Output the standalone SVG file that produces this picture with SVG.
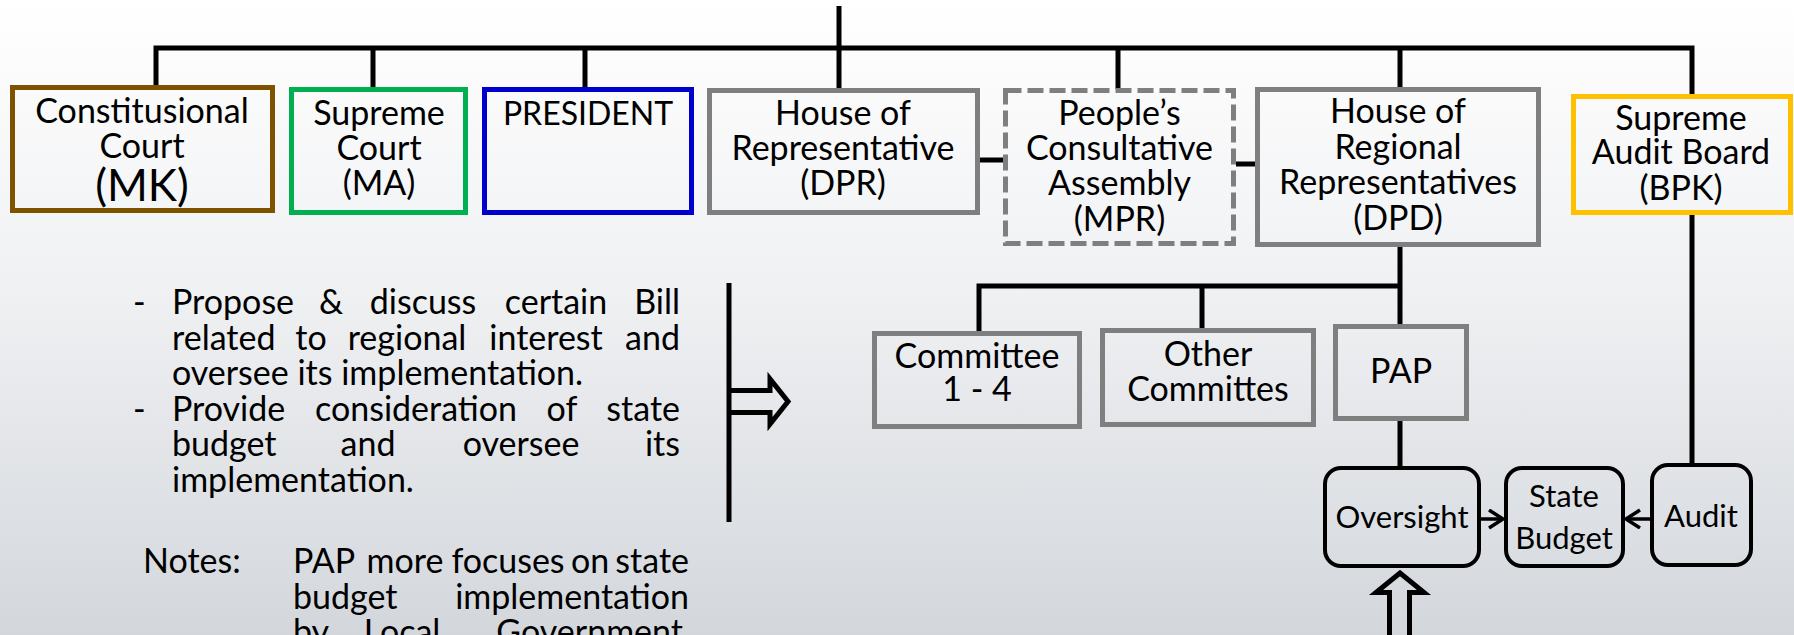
<svg xmlns="http://www.w3.org/2000/svg" width="1794" height="635" viewBox="0 0 1794 635">
<defs>
<linearGradient id="bg" x1="0" y1="0" x2="0" y2="1">
<stop offset="0" stop-color="#ffffff"/>
<stop offset="0.45" stop-color="#f0f1f3"/>
<stop offset="1" stop-color="#d3d7dc"/>
</linearGradient>
<marker id="open" markerUnits="userSpaceOnUse" markerWidth="20" markerHeight="24" refX="15" refY="10" orient="auto" viewBox="0 0 20 24">
<path d="M1,1 L15,10 L1,19" fill="none" stroke="#000" stroke-width="3.5"/>
</marker>
<style>
text{font-family:Lato,"Open Sans","Liberation Sans",sans-serif;fill:#000;}
.t{font-size:34px;text-anchor:middle;}
.s{font-size:31px;text-anchor:middle;}
.p{font-size:34px;}
.m{font-size:34px;text-anchor:middle;}
.e{font-size:34px;text-anchor:end;}
.box{fill:none;stroke-width:5;}
.gray{stroke:#7f7f7f;}
.rbox{fill:none;stroke:#000;stroke-width:4;}
.c{fill:none;stroke:#000;stroke-width:5;}
.a{fill:none;stroke:#000;stroke-width:3.5;marker-end:url(#open);}
.blk{fill:none;stroke:#000;stroke-width:5;stroke-linejoin:miter;}
</style>
</defs>
<rect width="1794" height="635" fill="url(#bg)"/>

<g id="connectors">
<path class="c" d="M156,86 V48 H1692 V95"/>
<path class="c" d="M839,6 V89"/>
<path class="c" d="M373,48 V88"/>
<path class="c" d="M585,48 V88"/>
<path class="c" d="M1118,48 V89"/>
<path class="c" d="M1400,48 V88"/>
<path class="c" d="M980,160 H1004"/>
<path class="c" d="M1236,164 H1256"/>
<path class="c" d="M1400,246 V325"/>
<path class="c" d="M979,332 V286 H1400"/>
<path class="c" d="M1202,286 V329"/>
<path class="c" d="M1400,420 V467"/>
<path class="c" d="M1692,214 V464"/>
<path class="a" d="M1481,519 H1503"/>
<path class="a" d="M1650,519 H1626"/>
<path class="c" d="M729,283 V522"/>
<path class="blk" d="M729,390.5 H770 V379 L788,401.5 L770,424 V412.5 H729"/>
<path class="blk" d="M1389.5,640 V592.5 H1376 L1400,573 L1424,592.5 H1409.5 V640"/>
</g>

<g id="mk">
<rect class="box" x="12.5" y="87.5" width="260" height="123" stroke="#7f5200"/>
<text class="t" x="142" y="123">Constitusional</text>
<text class="t" x="142" y="158">Court</text>
<text class="t" x="142" y="201" style="font-size:44px">(MK)</text>
</g>

<g id="ma">
<rect class="box" x="291.5" y="89.5" width="174" height="123" stroke="#00b050"/>
<text class="t" x="379" y="125">Supreme</text>
<text class="t" x="379" y="160">Court</text>
<text class="t" x="379" y="195">(MA)</text>
</g>

<g id="president">
<rect class="box" x="484.5" y="89.5" width="207" height="123" stroke="#0000cc"/>
<text class="t" x="588" y="125" style="font-size:32px">PRESIDENT</text>
</g>

<g id="dpr">
<rect class="box gray" x="709.5" y="90.5" width="268" height="122"/>
<text class="t" x="843" y="125">House of</text>
<text class="t" x="843" y="160">Representative</text>
<text class="t" x="843" y="195">(DPR)</text>
</g>

<g id="mpr">
<rect class="box gray" x="1005.5" y="90.5" width="228" height="153" stroke-dasharray="16 6"/>
<text class="t" x="1119.5" y="125">People’s</text>
<text class="t" x="1119.5" y="160">Consultative</text>
<text class="t" x="1119.5" y="195">Assembly</text>
<text class="t" x="1119.5" y="231">(MPR)</text>
</g>

<g id="dpd">
<rect class="box gray" x="1257.5" y="89.5" width="281" height="155"/>
<text class="t" x="1398" y="123">House of</text>
<text class="t" x="1398" y="159">Regional</text>
<text class="t" x="1398" y="194">Representatives</text>
<text class="t" x="1398" y="230">(DPD)</text>
</g>

<g id="bpk">
<rect class="box" x="1573.5" y="96.5" width="217" height="116" stroke="#ffc000"/>
<text class="t" x="1681" y="130">Supreme</text>
<text class="t" x="1681" y="164">Audit Board</text>
<text class="t" x="1681" y="200">(BPK)</text>
</g>

<g id="committee14">
<rect class="box gray" x="874.5" y="333.5" width="205" height="93"/>
<text class="t" x="977" y="368">Committee</text>
<text class="t" x="977" y="401">1 - 4</text>
</g>

<g id="othercommittes">
<rect class="box gray" x="1102.5" y="330.5" width="211" height="94"/>
<text class="t" x="1208" y="366">Other</text>
<text class="t" x="1208" y="401">Committes</text>
</g>

<g id="pap">
<rect class="box gray" x="1335.5" y="326.5" width="131" height="92"/>
<text class="t" x="1401" y="383">PAP</text>
</g>

<g id="oversight">
<rect class="rbox" x="1325" y="468" width="154" height="98" rx="16"/>
<text class="s" x="1402" y="528">Oversight</text>
</g>

<g id="statebudget">
<rect class="rbox" x="1506" y="468" width="117" height="98" rx="16"/>
<text class="s" x="1564" y="507">State</text>
<text class="s" x="1564" y="549">Budget</text>
</g>

<g id="audit">
<rect class="rbox" x="1652" y="465" width="99" height="100" rx="16"/>
<text class="s" x="1701" y="527">Audit</text>
</g>

<g id="description">
<text class="p" x="133" y="314">-</text>
<text class="p" x="172" y="314">Propose</text>
<text class="m" y="314"><tspan x="331">&amp;</tspan><tspan x="423">discuss</tspan><tspan x="556">certain</tspan></text>
<text class="e" x="680" y="314">Bill</text>
<text class="p" x="172" y="349.5">related</text>
<text class="m" y="349.5"><tspan x="311">to</tspan><tspan x="407">regional</tspan><tspan x="546">interest</tspan></text>
<text class="e" x="680" y="349.5">and</text>
<text class="p" x="172" y="385">oversee its implementation.</text>
<text class="p" x="133" y="420.5">-</text>
<text class="p" x="172" y="420.5">Provide</text>
<text class="m" y="420.5"><tspan x="416">consideration</tspan><tspan x="562">of</tspan></text>
<text class="e" x="680" y="420.5">state</text>
<text class="p" x="172" y="456">budget</text>
<text class="m" y="456"><tspan x="368">and</tspan><tspan x="521">oversee</tspan></text>
<text class="e" x="680" y="456">its</text>
<text class="p" x="172" y="491.5">implementation.</text>
</g>

<g id="notes">
<text class="p" x="143" y="573">Notes:</text>
<text class="p" x="293" y="573">PAP</text>
<text class="m" y="573"><tspan x="405">more</tspan><tspan x="508">focuses</tspan><tspan x="590">on</tspan></text>
<text class="e" x="689" y="573">state</text>
<text class="p" x="293" y="608.5">budget</text>
<text class="e" x="689" y="608.5">implementation</text>
<text class="p" x="293" y="644">by</text>
<text class="m" x="402" y="644">Local</text>
<text class="e" x="683" y="644">Government</text>
</g>
</svg>
